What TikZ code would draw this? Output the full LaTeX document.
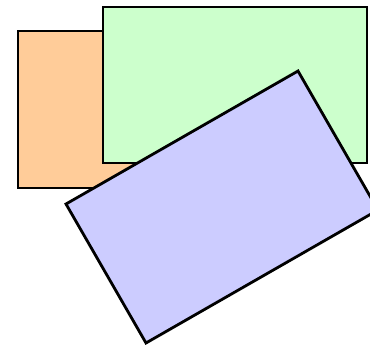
\documentclass[tikz,border=0pt]{standalone}
\begin{document}
\begin{tikzpicture}[x=1pt,y=-1pt,
  card/.style={draw=black,line width=2pt,line join=miter}]
\useasboundingbox (0,0) rectangle (370,346);
\clip (0,0) rectangle (370,346);
\definecolor{orangefill}{HTML}{FFCC99}
\definecolor{greenfill}{HTML}{CCFFCC}
\definecolor{bluefill}{HTML}{CCCCFF}
\draw[card,fill=orangefill] (18,31) rectangle (160,188);
\draw[card,fill=greenfill] (103,7) rectangle (367,163);
\draw[card,line width=2.8pt,fill=bluefill] (66,204) -- (298,71) -- (378,210) -- (146,343) -- cycle;
\end{tikzpicture}
\end{document}
